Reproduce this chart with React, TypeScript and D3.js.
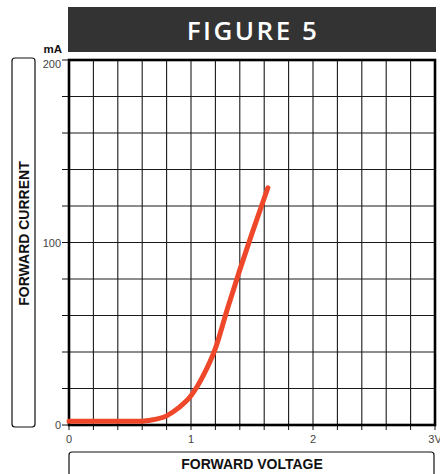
import * as d3 from "d3";

// forward voltage (V) vs forward current (mA)
const voltage = [0, 0.2, 0.4, 0.55, 0.65, 0.8, 0.9, 1.0, 1.1, 1.2, 1.3, 1.4, 1.5, 1.63];
const current = [2, 2, 2, 2, 2.5, 5, 9.5, 16, 27, 42, 64, 85, 105, 130];

const xTickLabels = ["0", "1", "2", "3V"];
const yTickLabels = ["0", "100", "200"];

const width = 440;
const height = 474;
const margin = { top: 60, right: 5, bottom: 49, left: 69 };

const font = "'Liberation Sans', Arial, sans-serif";

export default function App() {
  const x = d3.scaleLinear().domain([0, 3]).range([margin.left, width - margin.right]);
  const y = d3.scaleLinear().domain([0, 200]).range([height - margin.bottom, margin.top]);

  const xGrid = d3.range(0, 3.0001, 0.2);
  const yGrid = d3.range(0, 200.001, 20);

  const line = d3
    .line<number>()
    .x((_, i) => x(voltage[i]))
    .y((d) => y(d))
    .curve(d3.curveMonotoneX);

  const x0 = x(0), x1 = x(3), y0 = y(0), y1 = y(200);

  return (
    <svg
      width={width}
      height={height}
      style={{ position: "absolute", left: 0, top: 0, background: "#fff" }}
    >
      {/* title bar */}
      <rect x={x0 - 1} y={7} width={x1 - x0 + 2} height={45} fill="#333" />
      <text
        x={(x0 + x1) / 2 + 1}
        y={39.5}
        textAnchor="middle"
        fill="#fff"
        fontSize={26}
        fontFamily="'Open Sans', sans-serif"
        fontWeight={600}
        letterSpacing={2.5}
      >
        FIGURE 5
      </text>

      {/* grid */}
      {xGrid.map((v) => (
        <line key={"gx" + v} x1={x(v)} x2={x(v)} y1={y1} y2={y0} stroke="#1a1a1a" strokeWidth={1.1} />
      ))}
      {yGrid.map((v) => (
        <line key={"gy" + v} x1={x0} x2={x1} y1={y(v)} y2={y(v)} stroke="#1a1a1a" strokeWidth={1.1} />
      ))}

      {/* ticks outside frame */}
      {xGrid.map((v) => (
        <line key={"tx" + v} x1={x(v)} x2={x(v)} y1={y0} y2={y0 + 5} stroke="#111" strokeWidth={1} />
      ))}
      {yGrid.map((v) => (
        <line key={"ty" + v} x1={x0 - 7} x2={x0} y1={y(v)} y2={y(v)} stroke="#111" strokeWidth={1} />
      ))}

      {/* frame */}
      <rect x={x0} y={y1} width={x1 - x0} height={y0 - y1} fill="none" stroke="#000" strokeWidth={2.6} />

      {/* curve */}
      <path
        d={line(current) ?? ""}
        fill="none"
        stroke="#ee472a"
        strokeWidth={5}
        strokeLinecap="round"
        strokeLinejoin="round"
      />

      {/* tick labels */}
      {xTickLabels.map((t, i) => (
        <text key={t} x={x(i)} y={y0 + 18} textAnchor="middle" fontSize={11} fill="#444" fontFamily={font}>
          {t}
        </text>
      ))}
      {yTickLabels.map((t, i) => (
        <text
          key={t}
          x={x0 - 8}
          y={y(i * 100) + (i === 2 ? 7.5 : 4)}
          textAnchor="end"
          fontSize={11}
          fill="#444"
          fontFamily={font}
        >
          {t}
        </text>
      ))}
      <text x={x0 - 7} y={53} textAnchor="end" fontSize={11.5} fontWeight="bold" fill="#111" fontFamily={font}>
        mA
      </text>

      {/* y title box */}
      <rect x={12} y={58} width={23} height={369} rx={3} fill="none" stroke="#111" strokeWidth={1.2} />
      <text
        transform={`translate(28.5, ${(58 + 427) / 2 - 9}) rotate(-90)`}
        textAnchor="middle"
        fontSize={14}
        fontWeight="bold"
        fill="#111"
        fontFamily={font}
      >
        FORWARD CURRENT
      </text>

      {/* x title box */}
      <rect x={x0} y={452} width={x1 - x0 - 1} height={30} rx={3} fill="none" stroke="#111" strokeWidth={1.2} />
      <text
        x={(x0 + x1) / 2}
        y={469}
        textAnchor="middle"
        fontSize={14}
        fontWeight="bold"
        fill="#111"
        fontFamily={font}
      >
        FORWARD VOLTAGE
      </text>
    </svg>
  );
}
